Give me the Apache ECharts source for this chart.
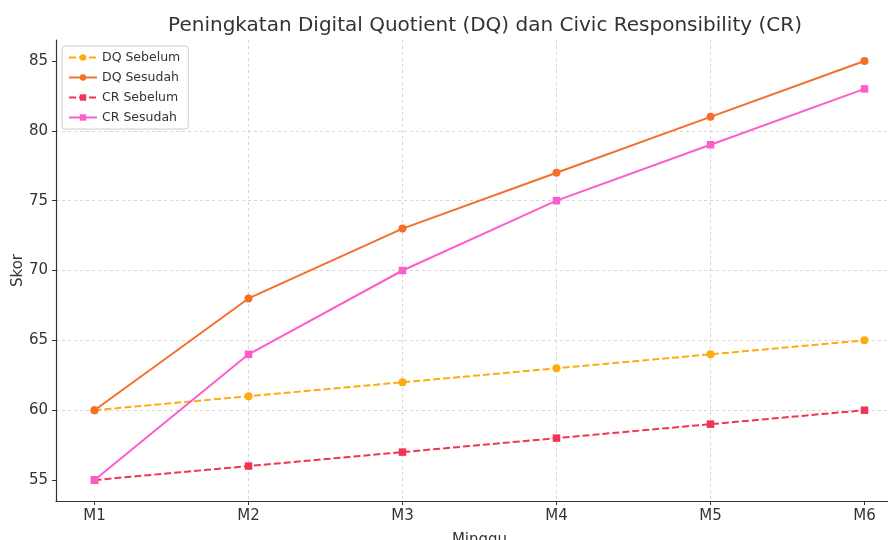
<!DOCTYPE html>
<html><head><meta charset="utf-8">
<script src="https://cdn.jsdelivr.net/npm/echarts@6/dist/echarts.min.js"></script>
<style>html,body{margin:0;padding:0;background:#fff}#c{width:888px;height:540px}</style>
</head><body><div id="c"></div>
<script>
const categories = ['M1','M2','M3','M4','M5','M6'];
const dqSebelum = [60,61,62,63,64,65];
const dqSesudah = [60,68,73,77,81,85];
const crSebelum = [55,56,57,58,59,60];
const crSesudah = [55,64,70,75,79,83];
const yTicks = [55,60,65,70,75,80,85];

const font = 'DejaVu Sans';
function pts(arr){ return arr.map((v,i)=>[i,v]); }
function mk(name, data, color, symbol, dashed){
  return {
    name, type:'line', data: pts(data), symbol, symbolSize: symbol==='circle'?8:7.5,
    lineStyle:{color, width:2, type: dashed?[7,3]:'solid'},
    itemStyle:{color}, animation:false, z: 3
  };
}
const chart = echarts.init(document.getElementById('c'), null, {renderer:'canvas'});
chart.setOption({
  animation:false,
  title:{text:'Peningkatan Digital Quotient (DQ) dan Civic Responsibility (CR)', left:480, textAlign:'center', top:11,
    textStyle:{fontFamily:font, fontSize:20, fontWeight:'normal', color:'#333'}},
  grid:{left:56, right:-15, top:40, bottom:39, containLabel:false, outerBoundsMode:'none'},
  legend:{
    orient:'vertical', left:62, top:46, itemWidth:28, itemHeight:8, itemGap:7,
    padding:[5,8,5,6], backgroundColor:'rgba(255,255,255,0.85)', borderColor:'#ccc', borderWidth:1, borderRadius:3,
    textStyle:{fontFamily:font, fontSize:12.5, color:'#333'},
    data:['DQ Sebelum','DQ Sesudah','CR Sebelum','CR Sesudah']
  },
  xAxis:{
    type:'value', min:-0.25, max:5.25, name:'Minggu', nameLocation:'middle', nameGap:32, nameMoveOverlap:false,
    nameTextStyle:{fontFamily:font, fontSize:15, color:'#333'},
    axisLine:{show:true, onZero:false, lineStyle:{color:'#333', width:1.2}},
    axisTick:{show:true, customValues:[0,1,2,3,4,5], length:4, inside:false, lineStyle:{color:'#333'}},
    axisLabel:{customValues:[0,1,2,3,4,5], formatter:v=>categories[Math.round(v)], fontFamily:font, fontSize:15, color:'#333', margin:8},
    splitLine:{show:true, showMinLine:false, showMaxLine:false, lineStyle:{color:'#ccc', type:[3,3], width:0.8}}
  },
  yAxis:{
    type:'value', min:53.5, max:86.5, name:'Skor', nameLocation:'middle', nameGap:30, nameRotate:90, nameMoveOverlap:false,
    nameTextStyle:{fontFamily:font, fontSize:15, color:'#333'},
    axisLine:{show:true, onZero:false, lineStyle:{color:'#333', width:1.2}},
    axisTick:{show:true, customValues:yTicks, length:4, lineStyle:{color:'#333'}},
    axisLabel:{customValues:yTicks, fontFamily:font, fontSize:15, color:'#333', margin:8},
    splitLine:{show:true, showMinLine:false, showMaxLine:false, lineStyle:{color:'#ccc', type:[3,3], width:0.8}}
  },
  series:[
    mk('DQ Sebelum', dqSebelum, '#ffab0f', 'circle', true),
    mk('DQ Sesudah', dqSesudah, '#f4702a', 'circle', false),
    mk('CR Sebelum', crSebelum, '#f23555', 'rect', true),
    mk('CR Sesudah', crSesudah, '#ff5ccb', 'rect', false)
  ]
});
</script></body></html>
